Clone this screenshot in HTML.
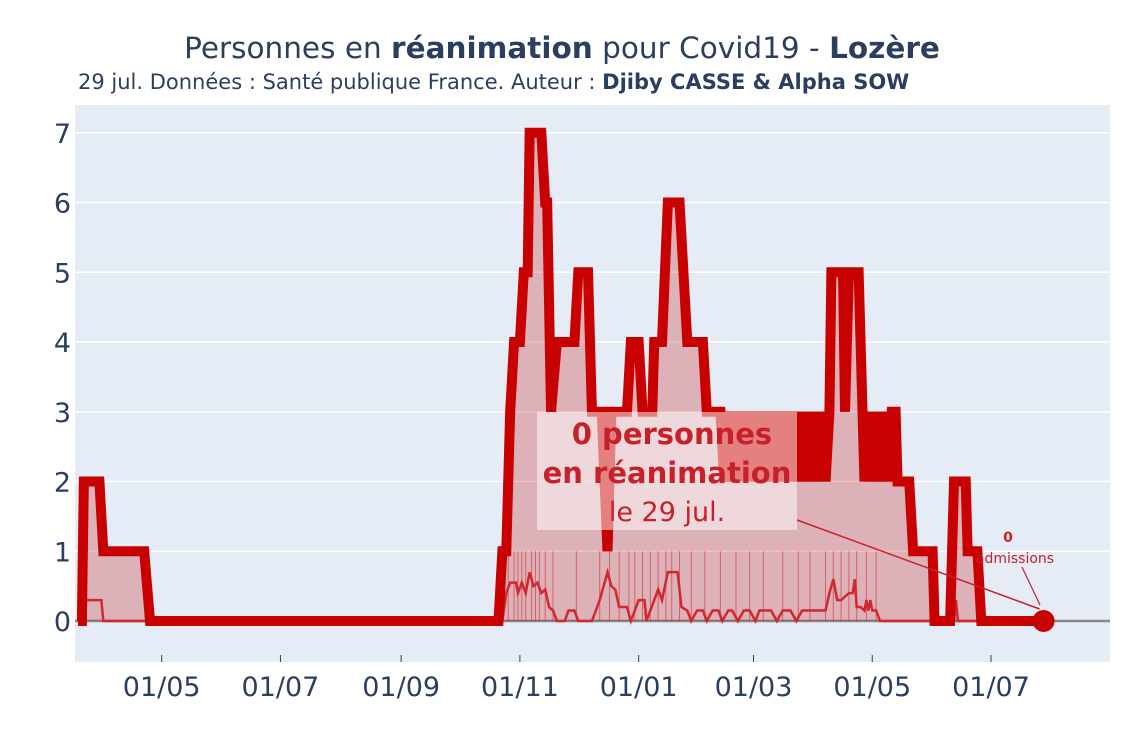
<!DOCTYPE html>
<html><head><meta charset="utf-8"><style>
body{margin:0;background:#fff;}
svg{display:block;font-family:"DejaVu Sans","Liberation Sans",sans-serif;}
</style></head><body>
<svg id="chart" width="1125" height="750" viewBox="0 0 1125 750" xmlns="http://www.w3.org/2000/svg">
<rect x="0" y="0" width="1125" height="750" fill="#fff"/>
<rect x="75" y="105" width="1035" height="557" fill="#e5ecf6"/>
<text x="562" y="58" text-anchor="middle" font-size="29.5" fill="#2a3f5f">Personnes en <tspan font-weight="bold">réanimation</tspan> pour Covid19 - <tspan font-weight="bold">Lozère</tspan></text>
<text x="78" y="89" font-size="21" fill="#2a3f5f">29 jul. Données : Santé publique France. Auteur : <tspan font-weight="bold">Djiby CASSE &amp; Alpha SOW</tspan></text>
<g id="grid"></g>
<g id="marks"></g>
<g id="anno"></g>
</svg>
<script>
// days since 2020-03-19
const icuDays = [0,2,3,11,13,34,37,216,218,220,222,224,227,229,231,232,238,240,241,243,246,255,257,262,264,269,272,274,282,284,288,290,295,296,300,303,309,311,313,321,323,330,332,334,336,338,340,342,344,346,348,350,352,354,356,358,360,362,364,366,368,370,372,374,376,378,380,382,384,386,387,393,394,396,401,403,404,406,408,410,412,414,416,418,420,421,427,429,439,440,448,450,456,457,462,464,496];
const icuVals = [0,0,2,2,1,1,0,0,1,1,3,4,4,5,5,7,7,6,6,3,4,4,5,5,3,3,1,3,3,4,4,3,3,4,4,6,6,5,4,4,3,3,2,3,2,3,2,3,2,3,2,3,2,3,2,3,2,3,2,3,2,3,2,3,2,3,2,3,2,3,5,5,3,5,5,3,2,3,2,3,2,3,2,3,3,2,2,1,1,0,0,2,2,1,1,0,0];
const admDays = [0,3,12,13,218,220,222,225,226,228,230,232,234,236,238,240,242,244,246,250,252,255,257,264,266,268,270,272,274,276,278,282,284,286,288,291,292,294,296,298,300,303,308,310,313,315,318,321,323,326,329,331,334,336,339,342,345,348,350,353,356,359,362,366,369,372,376,380,384,386,388,390,392,396,398,399,400,402,404,405,406,407,408,410,412,413,450,451,452,454,496];
const admVals = [0,0.3,0.3,0,0,0.4,0.55,0.55,0.4,0.55,0.4,0.7,0.5,0.55,0.4,0.45,0.2,0.15,0,0,0.15,0.15,0,0,0.15,0.3,0.5,0.7,0.5,0.45,0.2,0.2,0,0.15,0.3,0.3,0,0.15,0.3,0.45,0.3,0.7,0.7,0.2,0.15,0,0.15,0.15,0,0.15,0.15,0,0.15,0.15,0,0.15,0.15,0,0.15,0.15,0.15,0,0.15,0.15,0,0.15,0.15,0.15,0.15,0.4,0.6,0.3,0.3,0.4,0.4,0.6,0.2,0.2,0.15,0.3,0.15,0.3,0.15,0.15,0,0,0,0.3,0,0,0];
const barDays = [218,221,224,226,228,230,233,235,237,240,244,256,268,273,278,283,286,290,294,298,302,305,309,315,322,330,338,345,352,362,370,376,384,388,392,396,400,405,410,447];
const yTicks = [0,1,2,3,4,5,6,7];
const xTickDays = [43,104,166,227,288,347,408,469];
const xTickLabels = ["01/05","01/07","01/09","01/11","01/01","01/03","01/05","01/07"];
const lastValue = 0;

const NS="http://www.w3.org/2000/svg";
const X = d => 78 + d*1.9467;
const Y = v => 621 - v*69.75;
function mk(tag, attrs, parent){const e=document.createElementNS(NS,tag);for(const k in attrs)e.setAttribute(k,attrs[k]);parent.appendChild(e);return e;}
const grid=document.getElementById('grid'), marks=document.getElementById('marks'), anno=document.getElementById('anno');

yTicks.forEach(v=>{
  if(v>0){const l=mk('line',{x1:75,x2:1110,y1:Y(v),y2:Y(v),stroke:'#fff','stroke-width':1.5},grid);
  
  }
  const t=mk('text',{x:71,y:Y(v)+10,'text-anchor':'end','font-size':27,fill:'#2a3f5f'},grid);
  t.textContent=v;
  
  
});
xTickDays.forEach((d,i)=>{
  const tk=mk('line',{x1:X(d),x2:X(d),y1:655,y2:662,stroke:'#2a3f5f','stroke-width':1},grid);
  
  
  const t=mk('text',{x:X(d),y:696,'text-anchor':'middle','font-size':27,fill:'#2a3f5f'},grid);
  t.textContent=xTickLabels[i];
  
  
});
const zl=mk('line',{x1:75,x2:1110,y1:Y(0),y2:Y(0),stroke:'#888','stroke-width':2.5},grid);



let pts=icuDays.map((d,i)=>X(d)+','+Y(icuVals[i])).join(' ');
const area=mk('polygon',{points:X(icuDays[0])+','+Y(0)+' '+pts+' '+X(icuDays[icuDays.length-1])+','+Y(0),fill:'rgba(201,0,0,0.25)'},marks);


barDays.forEach(d=>{
  const b=mk('line',{x1:X(d),x2:X(d),y1:Y(0),y2:Y(1),stroke:'rgba(201,0,0,0.45)','stroke-width':1},marks);
  
  
});
const al=mk('polyline',{points:admDays.map((d,i)=>X(d)+','+Y(admVals[i])).join(' '),fill:'none',stroke:'#d0282e','stroke-width':2.5},marks);


const il=mk('polyline',{points:pts,fill:'none',stroke:'#c80000','stroke-width':10,'stroke-linejoin':'miter','stroke-miterlimit':2},marks);


const lastD=icuDays[icuDays.length-1];
const mkr=mk('circle',{cx:X(lastD),cy:Y(lastValue),r:11,fill:'#c80000'},marks);



const a1=mk('line',{x1:797,y1:520,x2:X(lastD)-4,y2:Y(lastValue)-12,stroke:'#c8202a','stroke-width':1.5},anno);


const bx=mk('rect',{x:537,y:412,width:260,height:118,fill:'rgba(255,255,255,0.5)'},anno);


const t1=mk('text',{x:672,y:444,'text-anchor':'middle','font-size':29,'font-weight':'bold',fill:'#c8202a'},anno);
t1.textContent=lastValue+' personnes';


const t2=mk('text',{x:667,y:483,'text-anchor':'middle','font-size':29,'font-weight':'bold',fill:'#c8202a'},anno);
t2.textContent='en réanimation';


const t3=mk('text',{x:667,y:521,'text-anchor':'middle','font-size':27,fill:'#c8202a'},anno);
t3.textContent='le 29 jul.';


const a2=mk('line',{x1:1022,y1:567,x2:1040,y2:605,stroke:'#c8202a','stroke-width':1.2},anno);


const t4=mk('text',{x:1008,y:542,'text-anchor':'middle','font-size':14,'font-weight':'bold',fill:'#c8202a'},anno);
t4.textContent='0';


const t5=mk('text',{x:1015,y:563,'text-anchor':'middle','font-size':14,fill:'#c8202a'},anno);
t5.textContent='admissions';


</script>
</body></html>
